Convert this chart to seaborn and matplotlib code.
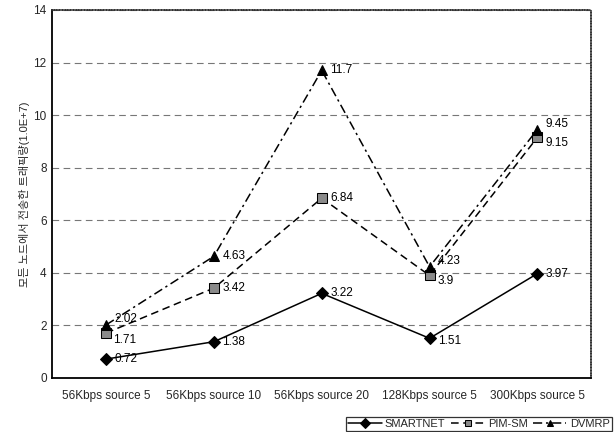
import matplotlib
matplotlib.use("Agg")
import matplotlib.pyplot as plt
import seaborn as sns
import pandas as pd

categories = ["56Kbps source 5", "56Kbps source 10", "56Kbps source 20",
              "128Kbps source 5", "300Kbps source 5"]
smartnet = [0.72, 1.38, 3.22, 1.51, 3.97]
pim_sm = [1.71, 3.42, 6.84, 3.9, 9.15]
dvmrp = [2.02, 4.63, 11.7, 4.23, 9.45]
series_names = ["SMARTNET", "PIM-SM", "DVMRP"]
y_ticks = [0, 2, 4, 6, 8, 10, 12, 14]

sns.set_theme(style="white")
plt.rcParams["font.family"] = ["Liberation Sans", "Noto Sans CJK KR"]

rows = []
for name, vals in zip(series_names, [smartnet, pim_sm, dvmrp]):
    for i, (c, v) in enumerate(zip(categories, vals)):
        rows.append({"cat": c, "pos": i, "value": v, "series": name})
df = pd.DataFrame(rows)

fig = plt.figure(figsize=(6.14, 4.32), dpi=100)
ax = fig.add_axes([0.085, 0.125, 0.878, 0.852])

palette = {"SMARTNET": "black", "PIM-SM": "black", "DVMRP": "black"}
markers = {"SMARTNET": "D", "PIM-SM": "s", "DVMRP": "^"}
dashes = {"SMARTNET": "", "PIM-SM": (5, 3), "DVMRP": (6, 2.5, 1.5, 2.5)}

sns.lineplot(data=df, x="pos", y="value", hue="series", style="series",
             palette=palette, markers=markers, dashes=dashes,
             hue_order=series_names, style_order=series_names,
             linewidth=1.1, markersize=6.5, markeredgecolor="black",
             ax=ax, legend=True)

# grey fill for the square markers
for line in ax.get_lines():
    if line.get_marker() == "s":
        line.set_markerfacecolor("#8a8a8a")

# value labels beside each point
offsets = {"SMARTNET": [(6, 0), (6, 0), (6, 0), (6, -2), (6, 0)],
           "PIM-SM": [(5, -5), (6, 0), (6, 0), (6, -4), (6, -4)],
           "DVMRP": [(6, 4), (6, 0), (6, 0), (6, 4), (6, 4)]}
for name, vals in zip(series_names, [smartnet, pim_sm, dvmrp]):
    for i, v in enumerate(vals):
        dx, dy = offsets[name][i]
        ax.annotate(f"{v:g}", (i, v), xytext=(dx, dy), textcoords="offset points",
                    ha="left", va="center", fontsize=8.5, color="black")

ax.set_xlim(-0.5, 4.5)
ax.set_ylim(0, 14)
ax.set_xticks(range(len(categories)))
ax.set_xticklabels(categories, fontsize=8.5)
ax.set_yticks(y_ticks)
ax.set_yticklabels([str(t) for t in y_ticks], fontsize=8.5)
ax.tick_params(axis="y", length=0, pad=4)
ax.tick_params(axis="x", length=0, pad=9)
ax.set_xlabel("")
ax.set_ylabel("모든 노드에서 전송한 트래픽량(1.0E+7)", fontsize=8)
ax.yaxis.set_label_coords(-0.041, 0.5)

ax.yaxis.grid(True, linestyle=(0, (6, 4)), color="#777777", linewidth=0.8)
ax.set_axisbelow(True)
for side in ["left", "bottom"]:
    ax.spines[side].set_color("black")
    ax.spines[side].set_linewidth(1.3)
for side in ["top", "right"]:
    ax.spines[side].set_color("#333333")
    ax.spines[side].set_linewidth(1.1)
    ax.spines[side].set_linestyle((0, (1, 0.8)))

leg = ax.legend(loc="lower right", bbox_to_anchor=(1.038, -0.145), ncol=3,
                fontsize=8, frameon=True, fancybox=False, handlelength=3.0,
                handletextpad=0.3, columnspacing=0.5, borderpad=0.2,
                borderaxespad=0)
leg.get_frame().set_edgecolor("black")
leg.get_frame().set_linewidth(0.9)
for h in leg.legend_handles:
    h.set_markersize(5)

fig.savefig("out.png", dpi=100)
